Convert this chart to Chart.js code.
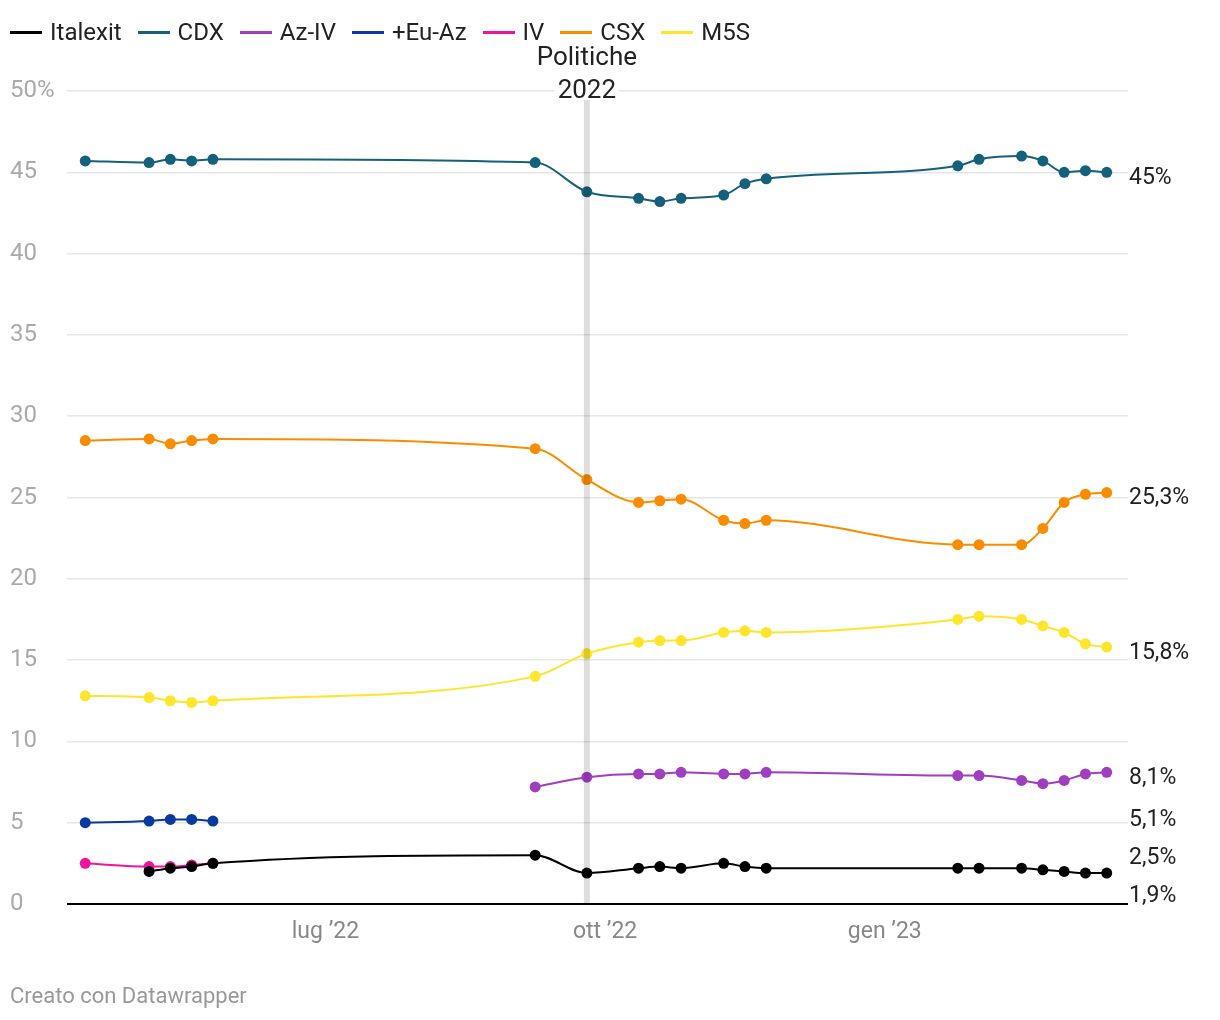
<!DOCTYPE html>
<html>
<head>
<meta charset="utf-8">
<script src="https://cdn.jsdelivr.net/npm/chart.js@4.4.0/dist/chart.umd.min.js"></script>
<style>
body { margin: 0; background: #fff; font-family: Roboto, sans-serif; }
#wrap { position: relative; width: 1220px; height: 1020px; }
#chart { display: block; }
#legend { position: absolute; left: 10px; top: 18px; display: flex; align-items: center; font-size: 24px; line-height: 28px; color: #222; }
#legend .item { display: flex; align-items: center; margin-right: 16px; }
#legend .line { width: 32px; height: 3px; margin-right: 8px; }
#footer { position: absolute; left: 10px; top: 983px; font-size: 22px; color: #999; }
</style>
</head>
<body>
<div id="wrap">
  <canvas id="chart" width="1220" height="1020"></canvas>
  <div id="legend"></div>
  <div id="footer">Creato con Datawrapper</div>
</div>
<script>
// survey dates
const dates = ['2022-04-13','2022-05-04','2022-05-11','2022-05-18','2022-05-25',
  '2022-09-08','2022-09-25','2022-10-12','2022-10-19','2022-10-26',
  '2022-11-09','2022-11-16','2022-11-23','2023-01-25','2023-02-01',
  '2023-02-15','2023-02-22','2023-03-01','2023-03-08','2023-03-15'];

const italexit = [null, 2.0, 2.2, 2.3, 2.5, 3.0, 1.9, 2.2, 2.3, 2.2, 2.5, 2.3, 2.2, 2.2, 2.2, 2.2, 2.1, 2.0, 1.9, 1.9];
const cdx = [45.7, 45.6, 45.8, 45.7, 45.8, 45.6, 43.8, 43.4, 43.2, 43.4, 43.6, 44.3, 44.6, 45.4, 45.8, 46.0, 45.7, 45.0, 45.1, 45.0];
const azIv = [null, null, null, null, null, 7.2, 7.8, 8.0, 8.0, 8.1, 8.0, 8.0, 8.1, 7.9, 7.9, 7.6, 7.4, 7.6, 8.0, 8.1];
const euAz = [5.0, 5.1, 5.2, 5.2, 5.1, null, null, null, null, null, null, null, null, null, null, null, null, null, null, null];
const iv = [2.5, 2.3, 2.3, 2.4, 2.5, null, null, null, null, null, null, null, null, null, null, null, null, null, null, null];
const csx = [28.5, 28.6, 28.3, 28.5, 28.6, 28.0, 26.1, 24.7, 24.8, 24.9, 23.6, 23.4, 23.6, 22.1, 22.1, 22.1, 23.1, 24.7, 25.2, 25.3];
const m5s = [12.8, 12.7, 12.5, 12.4, 12.5, 14.0, 15.4, 16.1, 16.2, 16.2, 16.7, 16.8, 16.7, 17.5, 17.7, 17.5, 17.1, 16.7, 16.0, 15.8];

const names = ['Italexit', 'CDX', 'Az-IV', '+Eu-Az', 'IV', 'CSX', 'M5S'];
const colors = ['#000000', '#15607a', '#a03ec0', '#0a3a9e', '#f0149c', '#fa8c00', '#ffe52c'];
const series = [italexit, cdx, azIv, euAz, iv, csx, m5s];

const tickDates = ['2022-07-01', '2022-10-01', '2023-01-01'];
const tickLabels = ['lug ’22', 'ott ’22', 'gen ’23'];
const yTicks = [0, 5, 10, 15, 20, 25, 30, 35, 40, 45, 50];

const electionDate = '2022-09-25';
const electionLabel = ['Politiche', '2022'];
const xMinDate = '2022-04-07';
const xMaxDate = '2023-03-22';

function dayOf(s) {
    return Date.parse(s + 'T00:00:00Z') / 86400000;
}

function fmt(v) {
    return String(Math.round(v * 10) / 10).replace('.', ',') + '%';
}

// legend
const legend = document.getElementById('legend');
names.forEach((n, i) => {
    const item = document.createElement('div');
    item.className = 'item';
    item.innerHTML = '<span class="line" style="background:' + colors[i] + '"></span>' + n;
    legend.appendChild(item);
});

const datasets = series.map((vals, i) => ({
    label: names[i],
    data: dates.map((d, j) => ({ x: dayOf(d), y: vals[j] })).filter(p => p.y !== null),
    borderColor: colors[i],
    backgroundColor: colors[i],
    pointBackgroundColor: colors[i],
    pointBorderWidth: 0,
    pointRadius: 5.5,
    borderWidth: 2,
    cubicInterpolationMode: 'monotone',
    fill: false
}));

const extras = {
    id: 'extras',
    afterDatasetsDraw(chart) {
        const ctx = chart.ctx;
        const xs = chart.scales.x;
        const ys = chart.scales.y;
        const area = chart.chartArea;

        // election band
        const bx = xs.getPixelForValue(dayOf(electionDate));
        ctx.save();
        ctx.fillStyle = 'rgba(0,0,0,0.13)';
        ctx.fillRect(bx - 3, area.top + 9, 6, area.bottom - area.top - 9);

        ctx.font = '26px Roboto';
        ctx.textAlign = 'center';
        ctx.textBaseline = 'middle';
        const w = ctx.measureText(electionLabel[1]).width;
        ctx.fillStyle = '#fff';
        ctx.fillRect(bx - w / 2 - 3, area.top - 9, w + 6, 18);
        ctx.fillStyle = '#222';
        ctx.fillText(electionLabel[0], bx, area.top - 33);
        ctx.fillText(electionLabel[1], bx, area.top);

        // end labels, pushed apart where they overlap
        ctx.font = '23px Roboto';
        const gap = 38;
        let labels = series.map(vals => {
            const last = vals.filter(v => v !== null).pop();
            return { text: fmt(last), y: ys.getPixelForValue(last) + 6 };
        });
        labels.sort((a, b) => a.y - b.y);
        let groups = labels.map(l => ({ items: [l], mean: l.y }));
        let changed = true;
        while (changed) {
            changed = false;
            for (let i = 0; i < groups.length - 1; i++) {
                const a = groups[i], b = groups[i + 1];
                const aEnd = a.mean + (a.items.length - 1) * gap / 2;
                const bStart = b.mean - (b.items.length - 1) * gap / 2;
                if (bStart - aEnd < gap) {
                    const items = a.items.concat(b.items);
                    const mean = items.reduce((s, l) => s + l.y, 0) / items.length;
                    groups.splice(i, 2, { items: items, mean: mean });
                    changed = true;
                    break;
                }
            }
        }
        ctx.textAlign = 'left';
        ctx.fillStyle = '#222';
        groups.forEach(g => {
            g.items.forEach((l, k) => {
                const y = g.mean + (k - (g.items.length - 1) / 2) * gap;
                ctx.fillText(l.text, area.right + 1, y);
            });
        });
        ctx.restore();
    }
};

const config = {
    type: 'line',
    data: { datasets: datasets },
    options: {
        responsive: false,
        animation: false,
        devicePixelRatio: 1,
        layout: { padding: { top: 91, right: 92, bottom: 66, left: 10 } },
        plugins: {
            legend: { display: false },
            tooltip: { enabled: false }
        },
        scales: {
            x: {
                type: 'linear',
                min: dayOf(xMinDate),
                max: dayOf(xMaxDate),
                grid: { display: false },
                border: { display: false },
                afterBuildTicks: scale => {
                    scale.ticks = tickDates.map(d => ({ value: dayOf(d) }));
                },
                afterFit: scale => { scale.height = 50; },
                ticks: {
                    padding: 6,
                    maxRotation: 0,
                    autoSkip: false,
                    color: '#888',
                    font: { family: 'Roboto', size: 23 },
                    callback: (v, i) => tickLabels[i]
                }
            },
            y: {
                min: 0,
                max: 50,
                border: { display: false },
                afterBuildTicks: scale => {
                    scale.ticks = yTicks.map(v => ({ value: v }));
                },
                afterFit: scale => { scale.width = 57; },
                grid: {
                    drawTicks: false,
                    color: c => c.tick.value === 0 ? '#000' : '#e6e6e6',
                    lineWidth: c => c.tick.value === 0 ? 2 : 1.5
                },
                ticks: {
                    crossAlign: 'far',
                    color: '#aaa',
                    font: { family: 'Roboto', size: 24 },
                    callback: v => v === 50 ? '50%' : v
                }
            }
        }
    },
    plugins: [extras]
};

new Chart(document.getElementById('chart').getContext('2d'), config);
</script>
</body>
</html>
